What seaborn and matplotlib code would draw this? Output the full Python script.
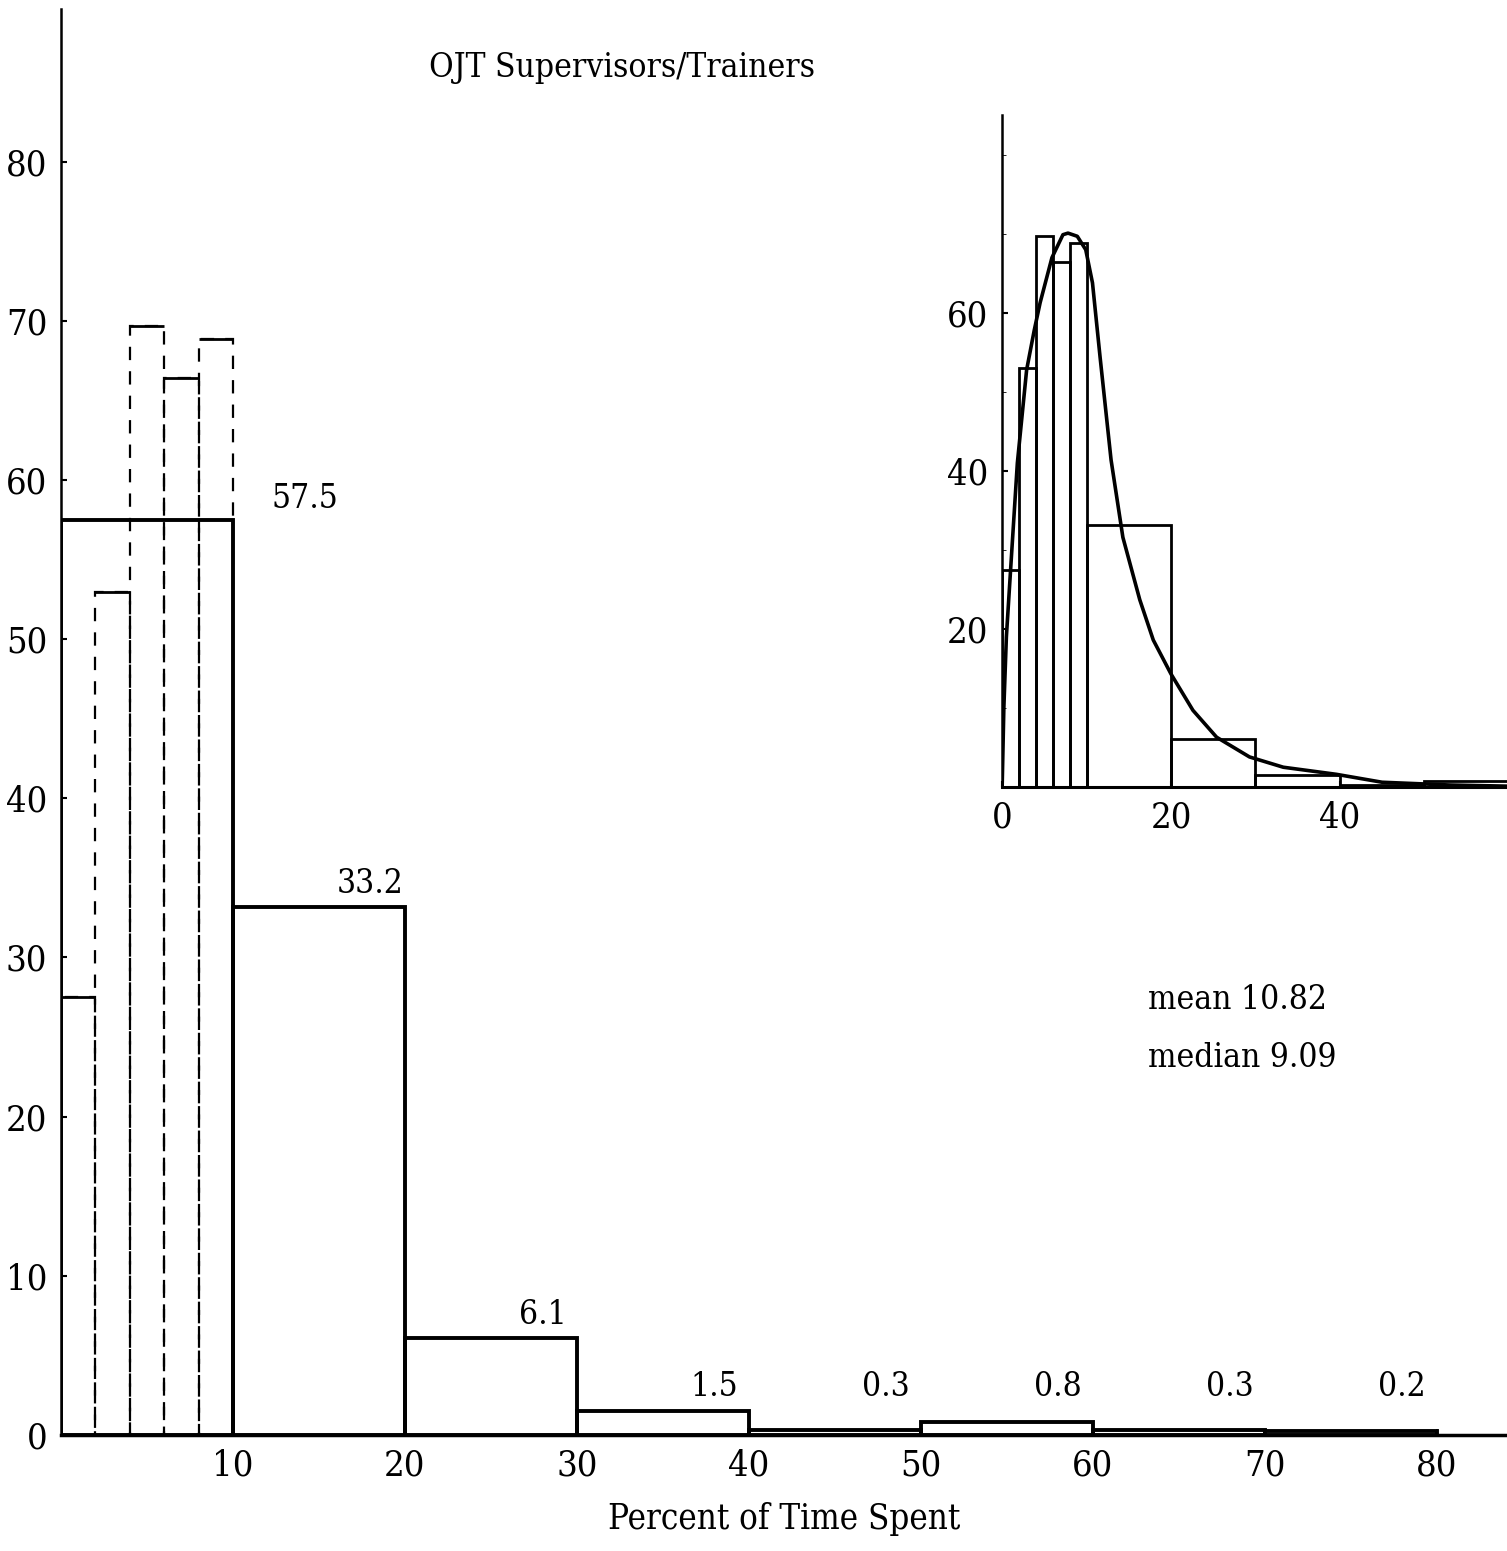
import numpy as np
import matplotlib
matplotlib.use("Agg")
import matplotlib.pyplot as plt
import seaborn as sns

# Percent of OJT supervisors/trainers by percent of time spent
coarse_edges = [0, 10, 20, 30, 40, 50, 60, 70, 80]
coarse_vals = [57.5, 33.2, 6.1, 1.5, 0.3, 0.8, 0.3, 0.2]
coarse_labels = ["57.5", "33.2", "6.1", "1.5", "0.3", "0.8", "0.3", "0.2"]

# 2-percent breakdown of the first bin (scaled per 10 percent)
fine_edges = [0, 2, 4, 6, 8, 10]
fine_vals = [27.5, 53.0, 69.7, 66.4, 68.9]

# fitted curve in the inset
curve_x = [0, 0.2, 0.5, 1.0, 1.8, 2.9, 3.8, 4.5, 5.9, 7.2, 7.8, 8.9, 9.9, 10.7,
           11.6, 12.9, 14.3, 16.3, 17.9, 20.0, 22.6, 25.4, 29.3, 33.3, 39.6,
           45.0, 53.0, 60.0]
curve_y = [0, 10, 19, 27.5, 41, 52.8, 57.8, 61.3, 67, 69.9, 70.1, 69.7, 68, 63.8,
           54.4, 41.4, 31.6, 23.7, 18.6, 14.3, 9.7, 6.3, 3.8, 2.5, 1.6,
           0.6, 0.25, 0.1]

title = "OJT Supervisors/Trainers"
xlabel = "Percent of Time Spent"
stats_text = ["mean 10.82", "median 9.09"]

sns.set_style("ticks")
plt.rcParams["font.family"] = ["DejaVu Serif"]
plt.rcParams["font.stretch"] = "condensed"
plt.rcParams["text.color"] = "black"
plt.rcParams["axes.edgecolor"] = "black"
plt.rcParams["axes.labelcolor"] = "black"
plt.rcParams["xtick.color"] = "black"
plt.rcParams["ytick.color"] = "black"

fig = plt.figure(figsize=(15.07, 15.51), dpi=100)
ax = fig.add_axes([0.0405, 0.075, 0.9595, 0.919])

mid = lambda e: [(a + b) / 2 for a, b in zip(e[:-1], e[1:])]

# dashed 2% bars with solid tops
sns.histplot(x=mid(fine_edges), weights=fine_vals, bins=fine_edges, fill=False,
             color="black", linewidth=1.6, linestyle=(0, (6, 5)), ax=ax)
ax.hlines(fine_vals, fine_edges[:-1], fine_edges[1:], colors="black", linewidth=2)

# main 10% bars
sns.histplot(x=mid(coarse_edges), weights=coarse_vals, bins=coarse_edges, fill=False,
             color="black", linewidth=2.8, ax=ax)

for i, (r, v, lab) in enumerate(zip(coarse_edges[1:], coarse_vals, coarse_labels)):
    if i == 0:
        ax.text(r + 4.2, v + 1.3, lab, ha="center", va="center", fontsize=24)
    else:
        ax.text(r - 2, max(v + 1.4, 3.0), lab, ha="center", va="center", fontsize=24)

ax.set_xlim(0, 84.1)
ax.set_ylim(0, 89.6)
ax.set_xticks(range(10, 90, 10))
ax.set_yticks(range(0, 90, 10))
ax.tick_params(axis="both", direction="in", length=4, width=1.5, labelsize=26)
ax.tick_params(axis="y", pad=10)
ax.tick_params(axis="x", pad=10)
ax.set_ylabel("")
ax.set_xlabel(xlabel, fontsize=25, labelpad=14)
sns.despine(ax=ax)
ax.spines["left"].set_linewidth(1.8)
ax.spines["bottom"].set_linewidth(2.5)

fig.text(0.413, 0.956, title, ha="center", va="center", fontsize=24)
fig.text(0.762, 0.355, stats_text[0], ha="left", va="center", fontsize=24)
fig.text(0.762, 0.318, stats_text[1], ha="left", va="center", fontsize=24)

# inset: full histogram with fitted curve
inset_edges = fine_edges + coarse_edges[2:]
inset_vals = fine_vals + coarse_vals[1:]
ins = fig.add_axes([0.665, 0.4926, 0.335, 0.433])
sns.histplot(x=mid(inset_edges), weights=inset_vals, bins=inset_edges, fill=False,
             color="black", linewidth=2, ax=ins)
sns.lineplot(x=curve_x, y=curve_y, color="black", linewidth=2.6, ax=ins)
ins.set_xlim(0, 59.8)
ins.set_ylim(0, 85)
ins.set_xticks([0, 20, 40])
ins.set_yticks([20, 40, 60])
ins.set_yticks(range(10, 90, 10), minor=True)
ins.tick_params(axis="both", direction="in", length=4, width=1.5, labelsize=26, pad=10)
ins.tick_params(axis="y", which="minor", direction="in", length=3)
ins.set_xlabel("")
ins.set_ylabel("")
sns.despine(ax=ins)
ins.spines["left"].set_linewidth(1.8)
ins.spines["bottom"].set_linewidth(2.2)
ins.patch.set_alpha(0)

fig.savefig("out.png", dpi=100)
